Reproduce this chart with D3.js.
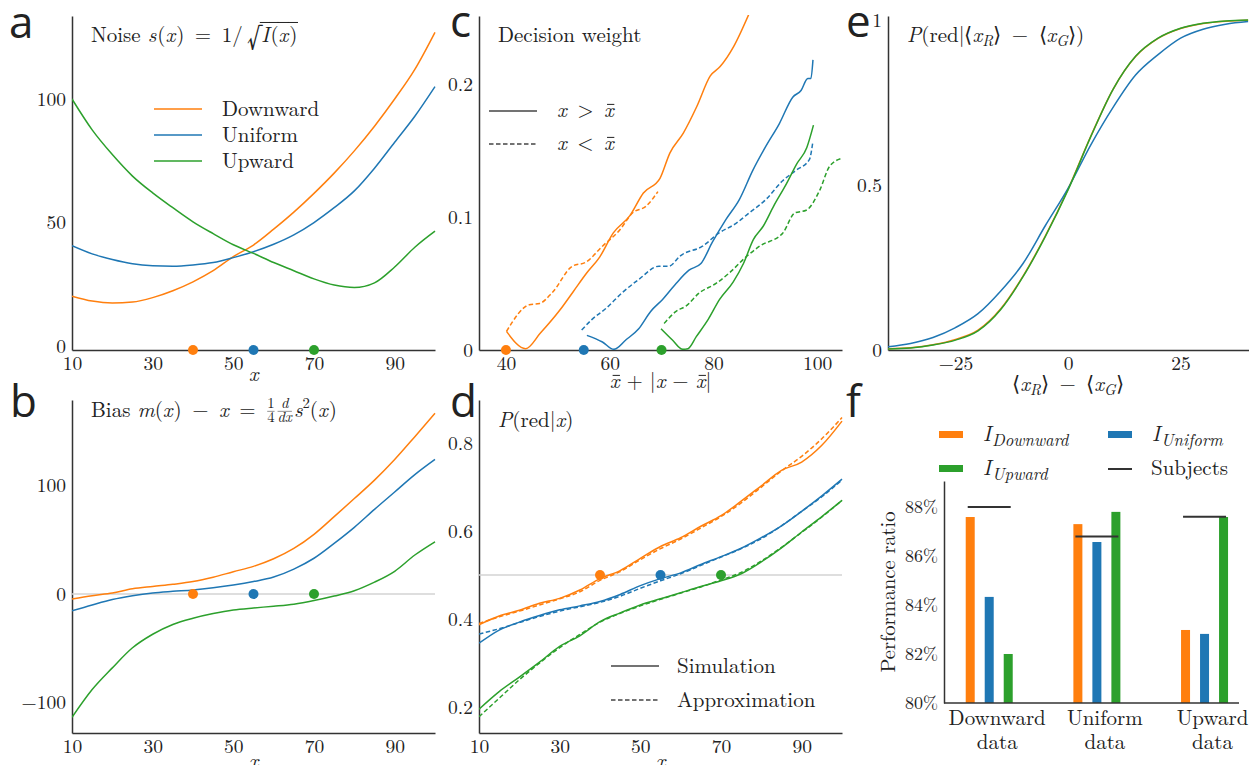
<!DOCTYPE html>
<html>
<head>
<meta charset="utf-8">
<script src="https://d3js.org/d3.v7.min.js"></script>
<style>
    body { margin: 0; background: #fff; }
</style>
</head>
<body>
<svg width="1249" height="765"></svg>
<script>
// ---- data ----
// panel a & b share one x grid
const gridX = [10, 15, 20, 25, 30, 35, 40, 45, 50, 55, 60, 65, 70, 75, 80, 85, 90, 95, 100];
const noiseDown = [20.2, 18.2, 17.4, 17.8, 19.6, 22.4, 26, 30.5, 36.2, 40.9, 47.3, 54.2, 61.8, 70, 79, 89, 100, 112, 127];
const noiseUni = [40.6, 37.3, 35.0, 33.3, 32.5, 32.3, 32.8, 33.8, 35.8, 38.2, 41.2, 45, 50, 56, 62.8, 72, 82.5, 93, 105];
const noiseUp = [100, 87.5, 77.5, 68.8, 62, 56, 50.3, 45.5, 41, 37.5, 33.8, 30.5, 27.2, 24.7, 23.7, 25.6, 32, 40, 46.5];

const biasDown = [-4.6, -1.5, 1, 4.8, 7, 9, 11.5, 15.5, 20.6, 25.5, 32.5, 42, 55, 71.3, 88, 105, 124, 145, 166.5];
const biasUni = [-15.4, -10, -5, -1.5, 1, 2.5, 3.8, 5.8, 8.3, 11.5, 15.7, 23, 33, 46.7, 61.5, 78, 94, 110, 124];
const biasUp = [-113.6, -88, -68, -49.5, -37, -28, -22.3, -18, -14.7, -12.8, -11.2, -9.3, -6, -1.8, 3.1, 11, 21, 36, 48.2];

// panel c: decision weight, solid x > xbar, dashed x < xbar
const cDownSolidX = [40.1, 43.8, 46.6, 50.4, 53.0, 55.6, 58.1, 60.7, 63.9, 66.5, 69.7, 71.6, 74.2, 76.8, 79.4, 81.3, 83.9, 86.8];
const cDownSolidY = [0.014, 0.001, 0.0125, 0.030, 0.044, 0.058, 0.070, 0.088, 0.101, 0.118, 0.129, 0.148, 0.163, 0.183, 0.206, 0.213, 0.228, 0.252];
const cDownDashX = [40.1, 44.5, 46.5, 48.9, 52.8, 55.4, 58.6, 61.9, 64.4, 67.0, 69.3];
const cDownDashY = [0.014, 0.034, 0.035, 0.043, 0.063, 0.066, 0.078, 0.090, 0.103, 0.108, 0.119];
const cUniSolidX = [55.6, 58.6, 60.8, 63.1, 65.6, 67.9, 70.2, 72.8, 75.3, 77.6, 79.8, 82.4, 85.0, 87.6, 90.1, 92.7, 95.3, 96.9, 98.2, 98.8, 99.2];
const cUniSolidY = [0.011, 0.006, 0.0005, 0.0075, 0.016, 0.029, 0.038, 0.050, 0.060, 0.065, 0.081, 0.098, 0.113, 0.135, 0.153, 0.170, 0.190, 0.195, 0.204, 0.204, 0.218];
const cUniDashX = [54.6, 56.6, 59.2, 62.4, 65.6, 69.5, 71.4, 73.7, 77.9, 81.1, 84.3, 86.9, 90.1, 93.3, 95.9, 98.5, 99.2];
const cUniDashY = [0.015, 0.023, 0.031, 0.043, 0.053, 0.063, 0.063, 0.071, 0.078, 0.088, 0.095, 0.103, 0.113, 0.127, 0.135, 0.143, 0.157];
const cUpSolidX = [69.9, 72.1, 74.1, 75.1, 76.7, 79.0, 81.2, 83.8, 85.8, 87.7, 89.6, 91.6, 94.1, 96.1, 98.0, 99.3];
const cUpSolidY = [0.016, 0.0075, 0.0005, 0.001, 0.010, 0.023, 0.038, 0.051, 0.065, 0.083, 0.093, 0.108, 0.125, 0.140, 0.152, 0.169];
const cUpDashX = [70.5, 72.8, 74.7, 77.3, 80.5, 83.1, 86.3, 88.9, 93.4, 95.7, 97.9, 100.5, 102.4, 104.7];
const cUpDashY = [0.020, 0.029, 0.033, 0.043, 0.050, 0.058, 0.070, 0.078, 0.088, 0.103, 0.105, 0.120, 0.138, 0.144];

// panel d: P(red|x), simulation (solid) and approximation (dashed)
const dDownSim = [0.387, 0.407, 0.420, 0.436, 0.447, 0.466, 0.492, 0.510, 0.538, 0.565, 0.585, 0.611, 0.635, 0.668, 0.703, 0.738, 0.757, 0.795, 0.850];
const dDownApx = [0.390, 0.405, 0.418, 0.432, 0.446, 0.462, 0.488, 0.508, 0.535, 0.560, 0.582, 0.607, 0.633, 0.664, 0.700, 0.737, 0.770, 0.810, 0.858];
const dUniSim = [0.345, 0.375, 0.393, 0.408, 0.421, 0.430, 0.440, 0.456, 0.476, 0.492, 0.505, 0.524, 0.542, 0.561, 0.585, 0.612, 0.645, 0.680, 0.718];
const dUniApx = [0.366, 0.378, 0.392, 0.406, 0.418, 0.428, 0.438, 0.452, 0.470, 0.487, 0.503, 0.522, 0.541, 0.560, 0.583, 0.612, 0.645, 0.678, 0.716];
const dUpSim = [0.195, 0.235, 0.268, 0.302, 0.338, 0.362, 0.394, 0.414, 0.432, 0.446, 0.460, 0.474, 0.487, 0.503, 0.530, 0.562, 0.598, 0.633, 0.670];
const dUpApx = [0.178, 0.220, 0.262, 0.300, 0.335, 0.365, 0.393, 0.413, 0.430, 0.445, 0.459, 0.473, 0.489, 0.506, 0.532, 0.563, 0.597, 0.632, 0.670];

// panel e: P(red | <xR> - <xG>)
const eX = [-40, -35, -30, -25, -20, -15, -10, -5, 0, 5, 10, 15, 20, 25, 30, 35, 40];
const eDown = [0.004, 0.007, 0.016, 0.032, 0.060, 0.124, 0.224, 0.347, 0.487, 0.646, 0.790, 0.889, 0.944, 0.974, 0.989, 0.996, 0.999];
const eUni = [0.010, 0.020, 0.038, 0.068, 0.110, 0.178, 0.262, 0.378, 0.490, 0.620, 0.735, 0.833, 0.895, 0.945, 0.972, 0.987, 0.995];
const eUp = [0.003, 0.006, 0.015, 0.030, 0.058, 0.122, 0.222, 0.345, 0.485, 0.645, 0.790, 0.890, 0.945, 0.975, 0.990, 0.997, 1.0];

// panel f: performance ratio (%)
const fGroups = ['Downward', 'Uniform', 'Upward'];
const fSeries = ['Downward', 'Uniform', 'Upward'];
const perfIDown = [87.59, 87.3, 82.98];
const perfIUni = [84.33, 86.57, 82.82];
const perfIUp = [82.0, 87.8, 87.59];
const perfSubjects = [88.0, 86.8, 87.6];

const centres = [40, 55, 70];

// ---- drawing ----
const C = { Downward: '#ff7f0e', Uniform: '#1f77b4', Upward: '#2ca02c' };
const cols = [C.Downward, C.Uniform, C.Upward];
const SERIF = "'Latin Modern Roman', 'Liberation Serif', serif";
const TS = 21;
const EN = '\u2002';
const TH = '\u2009';
const svg = d3.select('svg');

function txt(x, y, s, size, italic) {
    return svg.append('text').attr('x', x).attr('y', y)
        .style('font-family', SERIF).style('font-size', size + 'px')
        .style('font-style', italic ? 'italic' : 'normal')
        .style('fill', '#222').style('white-space', 'pre').text(s);
}

function makePanel(box, xd, yd, id) {
    const x = d3.scaleLinear().domain(xd).range([box.l, box.r]);
    const y = d3.scaleLinear().domain(yd).range([box.b, box.t]);
    svg.append('clipPath').attr('id', id).append('rect')
        .attr('x', box.l).attr('y', box.t - 1)
        .attr('width', box.r - box.l + 2).attr('height', box.b - box.t + 1);
    return { x, y, box, id };
}

function styleAxis(g, fs) {
    g.select('.domain').attr('stroke', '#333').attr('stroke-width', 1.5);
    g.selectAll('text').style('font-family', SERIF).style('font-size', fs + 'px').style('fill', '#222');
}

function drawAxes(p, xt, xf, yt, yf) {
    svg.append('g').attr('transform', 'translate(0,' + p.box.b + ')')
        .call(d3.axisBottom(p.x).tickValues(xt).tickFormat(xf).tickSize(0).tickPadding(6))
        .call(g => styleAxis(g, 19.5));
    svg.append('g').attr('transform', 'translate(' + p.box.l + ',0)')
        .call(d3.axisLeft(p.y).tickValues(yt).tickFormat(yf).tickSize(0).tickPadding(6))
        .call(g => styleAxis(g, 19.5));
}

function curve(p, xs, ys, color, dashed) {
    const pts = xs.map((v, i) => [v, ys[i]]);
    svg.append('path').datum(pts)
        .attr('clip-path', 'url(#' + p.id + ')')
        .attr('fill', 'none').attr('stroke', color).attr('stroke-width', 1.5)
        .attr('stroke-dasharray', dashed ? '4.5,2.5' : null)
        .attr('d', d3.line().curve(d3.curveMonotoneX).x(d => p.x(d[0])).y(d => p.y(d[1])));
}

function hline(p, v) {
    svg.append('line').attr('x1', p.box.l).attr('x2', p.box.r)
        .attr('y1', p.y(v)).attr('y2', p.y(v))
        .attr('stroke', '#d3d3d3').attr('stroke-width', 1.5);
}

function dots(p, yv) {
    centres.forEach((c, i) => {
        svg.append('circle').attr('cx', p.x(c)).attr('cy', p.y(yv)).attr('r', 5).attr('fill', cols[i]);
    });
}

// math-ish text: parts placed one after another
function rich(x, y, parts, size, anchor) {
    const g = svg.append('g');
    const put = (px, py, s, fs, it) => g.append('text').attr('x', px).attr('y', py)
        .style('font-family', SERIF).style('font-size', fs + 'px')
        .style('font-style', it ? 'italic' : 'normal').style('fill', '#222')
        .style('white-space', 'pre').text(s);
    let cx = 0;
    parts.forEach(pt => {
        if (pt.frac) {
            const fs = size * 0.7;
            const n = put(0, -size * 0.43, pt.frac[0], fs, pt.it);
            const d = put(0, size * 0.25, pt.frac[1], fs, pt.it);
            const nw = n.node().getComputedTextLength(), dw = d.node().getComputedTextLength();
            const w = Math.max(nw, dw);
            n.attr('x', cx + 1 + (w - nw) / 2);
            d.attr('x', cx + 1 + (w - dw) / 2);
            g.append('line').attr('x1', cx + 1).attr('x2', cx + 1 + w)
                .attr('y1', -size * 0.27).attr('y2', -size * 0.27)
                .attr('stroke', '#222').attr('stroke-width', 0.5);
            cx += w + 3;
            return;
        }
        const fs = size * (pt.scale || 1);
        const t = put(cx, pt.dy || 0, pt.t, fs, pt.it);
        const w = t.node().getComputedTextLength();
        if (pt.over) {
            g.append('line').attr('x1', cx - 1.5).attr('x2', cx + w + 0.5)
                .attr('y1', -size * 0.93).attr('y2', -size * 0.93)
                .attr('stroke', '#222').attr('stroke-width', 1);
        }
        if (pt.bar) {
            g.append('line').attr('x1', cx + w * 0.3).attr('x2', cx + w * 1.05)
                .attr('y1', -size * 0.6).attr('y2', -size * 0.6)
                .attr('stroke', '#222').attr('stroke-width', 1);
        }
        cx += w + (pt.sp || 0);
    });
    const shift = anchor === 'middle' ? -cx / 2 : 0;
    g.attr('transform', 'translate(' + (x + shift) + ',' + y + ')');
    return g;
}

function letter(t, x, y) {
    svg.append('text').attr('x', x).attr('y', y)
        .style('font-family', "'Open Sans', sans-serif").style('font-size', '44px')
        .style('fill', '#222').text(t);
}

const plain = d => d3.format('')(d).replace('-', '\u2212');

// ---------- a ----------
const pa = makePanel({ l: 72, r: 435, t: 16, b: 350 }, [10, 100], [-1.6, 133.6], 'ca');
drawAxes(pa, [10, 30, 50, 70, 90], plain, [0, 50, 100], plain);
curve(pa, gridX, noiseDown, C.Downward);
curve(pa, gridX, noiseUni, C.Uniform);
curve(pa, gridX, noiseUp, C.Upward);
dots({ x: pa.x, y: () => 350 }, 0);
rich(91, 42, [{ t: 'Noise ' }, { t: 's', it: true, sp: 1 }, { t: '(' }, { t: 'x', it: true, sp: 1 }, { t: ')' + EN + '=' + EN + '1/' + TH },
    { t: '\u221A', scale: 1.45, dy: 5 }, { t: 'I', it: true, over: true, sp: 1 }, { t: '(', over: true },
    { t: 'x', it: true, over: true, sp: 1 }, { t: ')', over: true }], TS);
[['Downward', C.Downward], ['Uniform', C.Uniform], ['Upward', C.Upward]].forEach((d, i) => {
    const yy = 109 + i * 26;
    svg.append('line').attr('x1', 154).attr('x2', 202).attr('y1', yy).attr('y2', yy)
        .attr('stroke', d[1]).attr('stroke-width', 1.5);
    txt(222, yy + 7, d[0], TS);
});
rich(253.5, 381, [{ t: 'x', it: true }], TS, 'middle');
letter('a', 9, 38);

// ---------- b ----------
const pb = makePanel({ l: 72, r: 435, t: 400, b: 733 }, [10, 100], [-128, 178.8], 'cb');
drawAxes(pb, [10, 30, 50, 70, 90], plain, [-100, 0, 100], plain);
hline(pb, 0);
curve(pb, gridX, biasDown, C.Downward);
curve(pb, gridX, biasUni, C.Uniform);
curve(pb, gridX, biasUp, C.Upward);
dots(pb, 0);
rich(91, 417, [{ t: 'Bias ' }, { t: 'm', it: true }, { t: '(' }, { t: 'x', it: true, sp: 1 }, { t: ')' + EN + '\u2212' + EN },
    { t: 'x', it: true }, { t: EN + '=' + EN }, { frac: ['1', '4'] }, { frac: ['d', 'dx'], it: true },
    { t: 's', it: true }, { t: '2', scale: 0.7, dy: -9 }, { t: '(' }, { t: 'x', it: true, sp: 1 }, { t: ')' }], TS);
rich(253.5, 768, [{ t: 'x', it: true }], TS, 'middle');
letter('b', 10, 417);

// ---------- c ----------
const pc = makePanel({ l: 479, r: 842, t: 16, b: 350 }, [34.8, 104.8], [0, 0.251], 'cc');
drawAxes(pc, [40, 60, 80, 100], plain, [0, 0.1, 0.2], plain);
curve(pc, cDownDashX, cDownDashY, C.Downward, true);
curve(pc, cDownSolidX, cDownSolidY, C.Downward);
curve(pc, cUniDashX, cUniDashY, C.Uniform, true);
curve(pc, cUniSolidX, cUniSolidY, C.Uniform);
curve(pc, cUpDashX, cUpDashY, C.Upward, true);
curve(pc, cUpSolidX, cUpSolidY, C.Upward);
dots(pc, 0);
txt(498, 42, 'Decision weight', TS);
[[111, false, '>'], [144, true, '<']].forEach(d => {
    svg.append('line').attr('x1', 489).attr('x2', 537).attr('y1', d[0]).attr('y2', d[0])
        .attr('stroke', '#444').attr('stroke-width', 1.3).attr('stroke-dasharray', d[1] ? '4.5,2.5' : null);
    rich(557, d[0] + 6, [{ t: 'x', it: true }, { t: EN + d[2] + EN }, { t: 'x', it: true, bar: true }], TS);
});
rich(660.5, 388, [{ t: 'x', it: true, bar: true }, { t: ' + |' }, { t: 'x', it: true }, { t: ' \u2212 ' },
    { t: 'x', it: true, bar: true }, { t: '|' }], TS, 'middle');
letter('c', 450, 37);

// ---------- d ----------
const pd = makePanel({ l: 479, r: 842, t: 400, b: 733 }, [10, 100], [0.141, 0.898], 'cd');
drawAxes(pd, [10, 30, 50, 70, 90], plain, [0.2, 0.4, 0.6, 0.8], plain);
hline(pd, 0.5);
curve(pd, gridX, dDownApx, C.Downward, true);
curve(pd, gridX, dDownSim, C.Downward);
curve(pd, gridX, dUniApx, C.Uniform, true);
curve(pd, gridX, dUniSim, C.Uniform);
curve(pd, gridX, dUpApx, C.Upward, true);
curve(pd, gridX, dUpSim, C.Upward);
dots(pd, 0.5);
rich(498, 427, [{ t: 'P', it: true }, { t: '(red|' }, { t: 'x', it: true }, { t: ')' }], TS);
[[666, false, 'Simulation'], [700, true, 'Approximation']].forEach(d => {
    svg.append('line').attr('x1', 611).attr('x2', 659).attr('y1', d[0]).attr('y2', d[0])
        .attr('stroke', '#444').attr('stroke-width', 1.3).attr('stroke-dasharray', d[1] ? '4.5,2.5' : null);
    txt(677, d[0] + 7, d[2], TS);
});
rich(660.5, 768, [{ t: 'x', it: true }], TS, 'middle');
letter('d', 450, 417);

// ---------- e ----------
const pe = makePanel({ l: 888, r: 1249, t: 16, b: 350 }, [-40, 40.2], [0, 1.012], 'ce');
drawAxes(pe, [-25, 0, 25], plain, [0, 0.5, 1], plain);
curve(pe, eX, eDown, C.Downward);
curve(pe, eX, eUni, C.Uniform);
curve(pe, eX, eUp, C.Upward);
rich(907, 42, [{ t: 'P', it: true }, { t: '(red|\u27E8' }, { t: 'x', it: true }, { t: 'R', it: true, scale: 0.72, dy: 4 },
    { t: '\u27E9' + EN + '\u2212' + EN + '\u27E8' }, { t: 'x', it: true }, { t: 'G', it: true, scale: 0.72, dy: 4 }, { t: '\u27E9)' }], TS);
rich(1068, 391, [{ t: '\u27E8' }, { t: 'x', it: true }, { t: 'R', it: true, scale: 0.72, dy: 4 },
    { t: '\u27E9' + EN + '\u2212' + EN + '\u27E8' }, { t: 'x', it: true }, { t: 'G', it: true, scale: 0.72, dy: 4 }, { t: '\u27E9' }], TS, 'middle');
letter('e', 846, 37);

// ---------- f ----------
const fBox = { l: 944, r: 1239, t: 481, b: 703 };
const fx = d3.scaleLinear().domain([-0.42, 2.32]).range([fBox.l, fBox.r]);
const fy = d3.scaleLinear().domain([80, 89.06]).range([fBox.b, fBox.t]);
const inner = d3.scaleBand().domain(fSeries).range([-28.5, 28.5]).paddingInner(10 / 19).paddingOuter(5 / 19);
const fValues = [perfIDown, perfIUni, perfIUp];
fGroups.forEach((g, gi) => {
    fSeries.forEach((s, si) => {
        svg.append('rect')
            .attr('x', fx(gi) + inner(s)).attr('width', inner.bandwidth())
            .attr('y', fy(fValues[si][gi])).attr('height', fy(80) - fy(fValues[si][gi]))
            .attr('fill', C[s]);
    });
    svg.append('line').attr('x1', fx(gi) - 21.5).attr('x2', fx(gi) + 21.5)
        .attr('y1', fy(perfSubjects[gi])).attr('y2', fy(perfSubjects[gi]))
        .attr('stroke', '#333').attr('stroke-width', 2);
    txt(fx(gi) + 8, 725, g, TS).attr('text-anchor', 'middle');
    txt(fx(gi) + 8, 749, 'data', TS).attr('text-anchor', 'middle');
});
svg.append('g').attr('transform', 'translate(' + fBox.l + ',0)')
    .call(d3.axisLeft(fy).tickValues([80, 82, 84, 86, 88]).tickFormat(d => d + '%').tickSize(0).tickPadding(6))
    .call(g => styleAxis(g, 18));
svg.append('line').attr('x1', fBox.l).attr('x2', fBox.r).attr('y1', fBox.b).attr('y2', fBox.b)
    .attr('stroke', '#333').attr('stroke-width', 1.5);
txt(0, 0, 'Performance ratio', 20.5).attr('text-anchor', 'middle')
    .attr('transform', 'translate(895,592) rotate(-90)');
// legend
[[939, 441, 'Downward', C.Downward], [1108, 441, 'Uniform', C.Uniform], [939, 475, 'Upward', C.Upward]].forEach(d => {
    svg.append('rect').attr('x', d[0]).attr('y', d[1] - 10).attr('width', 24).attr('height', 7).attr('fill', d[3]);
    rich(d[0] + 44, d[1], [{ t: 'I', it: true, sp: 1 }, { t: d[2], it: true, scale: 0.8, dy: 5 }], TS);
});
svg.append('line').attr('x1', 1108).attr('x2', 1132).attr('y1', 469).attr('y2', 469)
    .attr('stroke', '#333').attr('stroke-width', 2);
txt(1151, 475, 'Subjects', TS);
letter('f', 846, 417);
</script>
</body>
</html>
